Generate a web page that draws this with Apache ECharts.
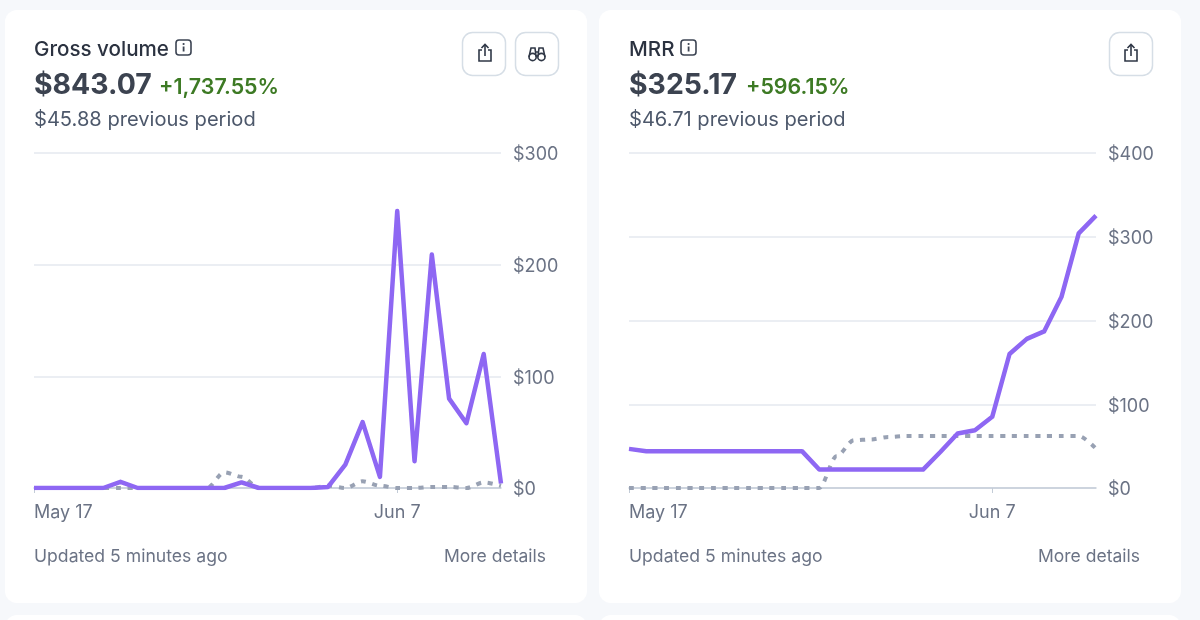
<!DOCTYPE html>
<html><head><meta charset="utf-8">
<style>html,body{margin:0;padding:0;background:#f6f8fb}#c{width:1200px;height:620px}</style>
<script src="https://cdn.jsdelivr.net/npm/echarts@6/dist/echarts.min.js"></script>
</head><body><div id="c"></div>
<script>
const categories = ['May 17','May 18','May 19','May 20','May 21','May 22','May 23','May 24','May 25','May 26','May 27','May 28','May 29','May 30','May 31','Jun 1','Jun 2','Jun 3','Jun 4','Jun 5','Jun 6','Jun 7','Jun 8','Jun 9','Jun 10','Jun 11','Jun 12','Jun 13'];
const grossCurrent  = [0,0,0,0,0,5.5,0,0,0,0,0,0,5,0,0,0,0,1,21,59,10,248,24,209,80,58,120,4];
const grossPrevious = [0,0,0,0,0,0,0,0,0,0,0,14,10,0,0,0,0,2,0,6,2,0,0,1,1,0,5,2];
const mrrCurrent    = [46.7,44,44,44,44,44,44,44,44,44,44,22,22,22,22,22,22,22,43,65,69,85,160,178,187,228,304,325.17];
const mrrPrevious   = [0,0,0,0,0,0,0,0,0,0,0,0,38,57,58,61,62,62,62,62,62,62,62,62,62,62,62,47];
const grossTicks = [0,100,200,300];
const mrrTicks = [0,100,200,300,400];

const FONT = 'Inter, "Noto Sans", sans-serif';
const chart = echarts.init(document.getElementById('c'));
const purple = '#8e67f3', dash = '#98a1b3', tickCol = '#6b7385';

function xAxis(i){return {gridIndex:i,type:'category',boundaryGap:false,data:categories,
  axisLine:{lineStyle:{color:'#c3ccd7',width:1.5}},
  axisTick:{length:5,lineStyle:{color:'#c3ccd7'},interval:(idx)=>idx===0||idx===21},
  axisLabel:{interval:(idx)=>idx===0||idx===21,color:tickCol,fontFamily:FONT,fontSize:18,margin:16,alignMinLabel:'left'}};}
function yAxis(i,max){return {gridIndex:i,type:'value',position:'right',min:0,max:max,interval:100,
  axisLine:{show:false},axisTick:{show:false},
  splitLine:{lineStyle:{color:'#e5e9ef',width:1.5}},
  axisLabel:{margin:12,formatter:v=>'{t|$'+v+'}',
    rich:{t:{color:tickCol,fontFamily:FONT,fontSize:18,padding:[4,0,0,0]}}}};}
function prev(i,data){return {type:'line',xAxisIndex:i,yAxisIndex:i,data,showSymbol:false,smooth:0.3,smoothMonotone:'x',z:2,
  lineStyle:{color:dash,width:4,type:[5,6.7],cap:'butt'}};}
function cur(i,data){return {type:'line',xAxisIndex:i,yAxisIndex:i,data,showSymbol:false,z:3,
  lineStyle:{color:purple,width:4.5,join:'round',cap:'butt'}};}

function txt(x,y,text,font,fill){return {type:'text',z:1,style:{x,y,text,font,fill,verticalAlign:'middle',align:'left'}};}
function card(x,y,w,h){return {type:'rect',z:0,shape:{x,y,width:w,height:h,r:12},style:{fill:'#fff'}};}
function button(x,y){return {type:'rect',z:1,shape:{x:x+.5,y:y+.5,width:43,height:43,r:10},style:{fill:'#fff',stroke:'#d6dee6',lineWidth:1.5}};}
function info(x,y){return [
  {type:'rect',z:1,shape:{x,y,width:15,height:15,r:3},style:{fill:'none',stroke:'#3c4453',lineWidth:1.6}},
  {type:'rect',z:1,shape:{x:x+6.7,y:y+6.5,width:1.8,height:5},style:{fill:'#3c4453'}},
  {type:'circle',z:1,shape:{cx:x+7.6,cy:y+4,r:1.1},style:{fill:'#3c4453'}}];}
function share(cx,cy){const s={fill:'none',stroke:'#2f3746',lineWidth:1.6};return [
  {type:'polyline',z:1,shape:{points:[[cx-3,cy-3],[cx-6,cy-3],[cx-6,cy+8],[cx+6,cy+8],[cx+6,cy-3],[cx+3,cy-3]]},style:s},
  {type:'line',z:1,shape:{x1:cx,y1:cy-8,x2:cx,y2:cy+3},style:s},
  {type:'polyline',z:1,shape:{points:[[cx-3.5,cy-5],[cx,cy-8.5],[cx+3.5,cy-5]]},style:s}];}
function binoculars(cx,cy){const s={fill:'none',stroke:'#2f3746',lineWidth:1.6};return [
  {type:'circle',z:1,shape:{cx:cx-4.4,cy:cy+3,r:3.6},style:s},
  {type:'circle',z:1,shape:{cx:cx+4.4,cy:cy+3,r:3.6},style:s},
  {type:'polyline',z:1,shape:{points:[[cx-8,cy+3],[cx-6,cy-6],[cx-2,cy-6],[cx-1,cy+2],[cx+1,cy+2],[cx+2,cy-6],[cx+6,cy-6],[cx+8,cy+3]]},style:s},
  {type:'line',z:1,shape:{x1:cx-1,y1:cy-2,x2:cx+1,y2:cy-2},style:s}];}

const graphic = [
  card(5,10,582,593), card(599,10,582,593), card(5,615,582,40), card(599,615,582,40),
  txt(34,50,'Gross volume','500 20.6px '+FONT,'#2b3240'),
  ...info(176,40),
  txt(34,85,'$843.07','700 28.4px '+FONT,'#3c4350'),
  txt(159,88,'+1,737.55%','600 21.4px '+FONT,'#3d7a24'),
  txt(34,120,'$45.88 previous period','400 20.1px '+FONT,'#4d586b'),
  button(462,32), ...share(485,53), button(515,32), ...binoculars(537,54),
  txt(34,557,'Updated 5 minutes ago','400 17.6px '+FONT,tickCol),
  txt(444,557,'More details','400 17.5px '+FONT,tickCol),
  txt(629,50,'MRR','500 20.6px '+FONT,'#2b3240'),
  ...info(681,40),
  txt(629,85,'$325.17','700 28.4px '+FONT,'#3c4350'),
  txt(746,88,'+596.15%','600 21.4px '+FONT,'#3d7a24'),
  txt(629,120,'$46.71 previous period','400 20.1px '+FONT,'#4d586b'),
  button(1109,32), ...share(1131,53),
  txt(629,557,'Updated 5 minutes ago','400 17.6px '+FONT,tickCol),
  txt(1038,557,'More details','400 17.5px '+FONT,tickCol)
];

chart.setOption({
  animation:false,
  backgroundColor:'#f6f8fb',
  grid:[{left:34,top:153,width:467,height:335},{left:629,top:153,width:467,height:335}],
  xAxis:[xAxis(0),xAxis(1)],
  yAxis:[yAxis(0,grossTicks[grossTicks.length-1]),yAxis(1,mrrTicks[mrrTicks.length-1])],
  series:[prev(0,grossPrevious),cur(0,grossCurrent),prev(1,mrrPrevious),cur(1,mrrCurrent)],
  graphic
});
</script></body></html>
